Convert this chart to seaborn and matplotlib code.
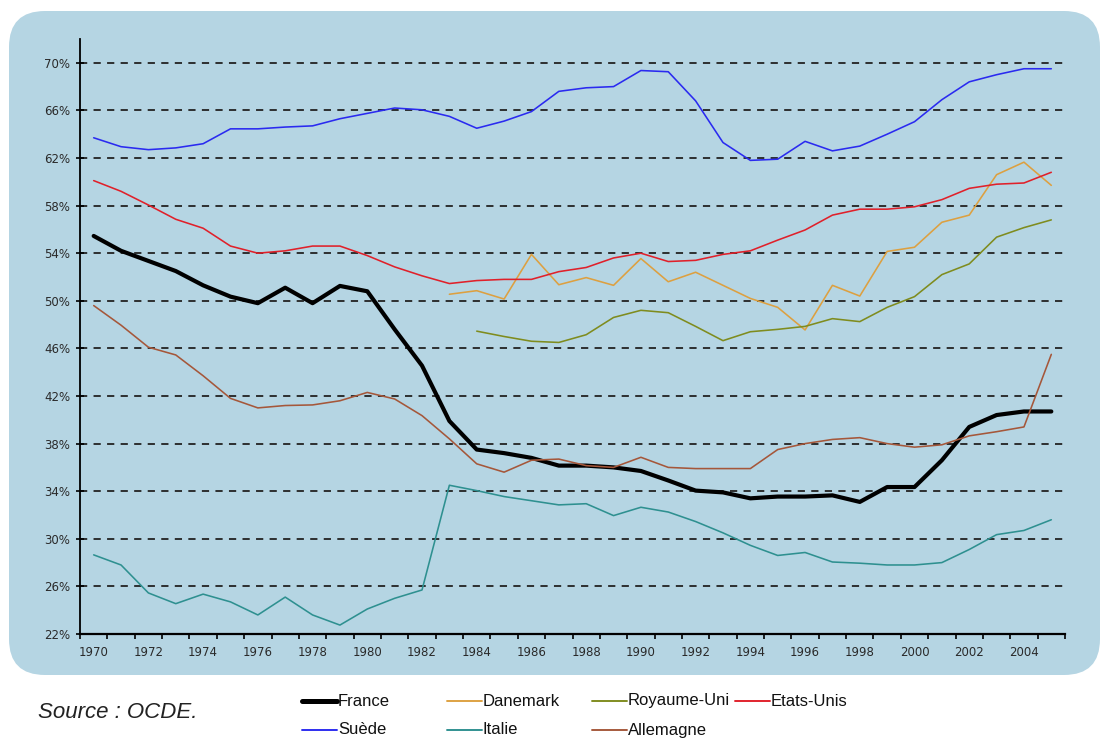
import numpy as np
import pandas as pd
import matplotlib
matplotlib.use("Agg")
import matplotlib.pyplot as plt
from matplotlib.patches import FancyBboxPatch
from matplotlib.lines import Line2D
import seaborn as sns

# Taux d'emploi (en %), 1970-2005
years = list(range(1970, 2006))

france = [55.45, 54.2, 53.35, 52.5, 51.3, 50.35, 49.8, 51.1, 49.8, 51.25, 50.8,
          47.6, 44.55, 39.9, 37.5, 37.2, 36.8, 36.15, 36.15, 36.0, 35.7, 34.9, 34.05, 33.9,
          33.4, 33.55, 33.55, 33.65, 33.1, 34.35, 34.35, 36.6, 39.4, 40.4, 40.7, 40.7]
suede = [63.7, 62.95, 62.7, 62.85, 63.2, 64.45, 64.45, 64.6, 64.7, 65.3, 65.75,
         66.2, 66.05, 65.5, 64.5, 65.1, 65.9, 67.6, 67.9, 68.0, 69.35, 69.25, 66.8, 63.3,
         61.8, 61.9, 63.4, 62.6, 63.0, 64.0, 65.05, 66.9, 68.4, 69.0, 69.5, 69.5]
etats_unis = [60.1, 59.2, 58.05, 56.85, 56.1, 54.6, 54.0, 54.2, 54.6, 54.6, 53.8,
              52.85, 52.1, 51.45, 51.7, 51.8, 51.8, 52.45, 52.8, 53.6, 54.0, 53.3, 53.4, 53.9,
              54.2, 55.1, 55.95, 57.2, 57.7, 57.7, 57.9, 58.5, 59.45, 59.8, 59.9, 60.8]
allemagne = [49.6, 47.95, 46.1, 45.45, 43.7, 41.8, 41.0, 41.2, 41.25, 41.6, 42.3,
             41.75, 40.35, 38.4, 36.3, 35.6, 36.6, 36.7, 36.15, 36.0, 36.85, 36.0, 35.9, 35.9,
             35.9, 37.5, 38.0, 38.35, 38.5, 38.0, 37.7, 37.9, 38.65, 39.0, 39.4, 45.5]
italie = [28.65, 27.8, 25.45, 24.55, 25.35, 24.7, 23.6, 25.1, 23.6, 22.75, 24.1,
          25.0, 25.7, 34.5, 34.05, 33.55, 33.2, 32.85, 32.95, 31.95, 32.65, 32.25, 31.45, 30.5,
          29.45, 28.6, 28.85, 28.05, 27.95, 27.8, 27.8, 28.0, 29.1, 30.35, 30.7, 31.6]
# series that start later
danemark_years = list(range(1983, 2006))
danemark = [50.55, 50.85, 50.15, 53.9, 51.35, 51.95, 51.3, 53.55, 51.6, 52.4, 51.3,
            50.2, 49.45, 47.55, 51.3, 50.4, 54.15, 54.5, 56.6, 57.2, 60.6, 61.65, 59.7]
royaume_uni_years = list(range(1984, 2006))
royaume_uni = [47.45, 47.0, 46.6, 46.5, 47.15, 48.6, 49.2, 49.0, 47.85, 46.65,
               47.4, 47.6, 47.85, 48.5, 48.25, 49.45, 50.35, 52.2, 53.1, 55.35, 56.15, 56.8]

series = {
    "France": (years, france),
    "Danemark": (danemark_years, danemark),
    "Royaume-Uni": (royaume_uni_years, royaume_uni),
    "Etats-Unis": (years, etats_unis),
    "Suède": (years, suede),
    "Italie": (years, italie),
    "Allemagne": (years, allemagne),
}
colors = {
    "France": "#000000",
    "Danemark": "#DDA040",
    "Royaume-Uni": "#7F8C1E",
    "Etats-Unis": "#E0202A",
    "Suède": "#2A2AF0",
    "Italie": "#2E9090",
    "Allemagne": "#A5573A",
}
widths = {k: (3.0 if k == "France" else 1.15) for k in series}

rows = []
for name, (yrs, vals) in series.items():
    for y, v in zip(yrs, vals):
        rows.append({"annee": y, "taux": v, "pays": name})
df = pd.DataFrame(rows)

sns.set_theme(style="white")
plt.rcParams['font.family'] = ['DejaVu Sans']

fig = plt.figure(figsize=(11.03, 7.40), dpi=100)

# rounded light-blue panel behind the chart
panel = FancyBboxPatch((0.09, 0.65), 10.91, 6.64,
                       boxstyle="round,pad=0,rounding_size=0.36",
                       transform=fig.dpi_scale_trans,
                       facecolor="#B5D5E3", edgecolor="none", zorder=-10)
fig.patches.append(panel)

ax = fig.add_axes([80 / 1103, 1 - 634 / 740, (1065 - 80) / 1103, (634 - 39) / 740])
ax.patch.set_alpha(0)

sns.lineplot(data=df, x="annee", y="taux", hue="pays", size="pays",
             palette=colors, sizes=widths, legend=False, ax=ax,
             estimator=None, sort=True)

ax.set_xlim(1969.5, 2005.5)
ax.set_ylim(22, 72)
ax.set_xlabel("")
ax.set_ylabel("")

yt = list(range(22, 71, 4))
ax.set_yticks(yt)
ax.set_yticklabels([f"{v}%" for v in yt])
ax.set_xticks(list(range(1970, 2006, 2)))
ax.set_xticks(np.arange(1969.5, 2006, 1), minor=True)

ax.tick_params(axis="x", which="major", length=0, pad=9, labelsize=8.5, labelcolor="#2a2a2a")
ax.tick_params(axis="x", which="minor", direction="out", length=3.5, width=1.2,
               color="black", bottom=True)
ax.tick_params(axis="y", which="major", direction="inout", length=6, width=1.2,
               color="black", left=True, pad=4, labelsize=8.5, labelcolor="#2a2a2a")

ax.set_axisbelow(True)
ax.yaxis.grid(True, color="#222222", linestyle=(0, (4, 3.5)), linewidth=1.3)
ax.xaxis.grid(False)

for s in ["top", "right"]:
    ax.spines[s].set_visible(False)
ax.spines["left"].set_color("black")
ax.spines["left"].set_linewidth(1.3)
ax.spines["bottom"].set_color("black")
ax.spines["bottom"].set_linewidth(1.6)

# source note
fig.text(38 / 1103, 1 - 713 / 740, "Source : OCDE.", fontsize=16, style="italic",
         family=["Liberation Sans", "DejaVu Sans"], color="#222222", va="center", ha="left")

# hand-placed legend under the panel
legend_pos = {
    "France": (302, 701), "Danemark": (447, 701), "Royaume-Uni": (592, 701),
    "Etats-Unis": (735, 701), "Suède": (302, 730), "Italie": (447, 730),
    "Allemagne": (592, 730),
}
for name, (px, py) in legend_pos.items():
    yf = 1 - py / 740
    fig.add_artist(Line2D([px / 1103, (px + 35) / 1103], [yf, yf],
                          color=colors[name], linewidth=widths[name] * 1.2,
                          transform=fig.transFigure))
    fig.text((px + 36) / 1103, yf, name, fontsize=12,
             family=["Liberation Sans Narrow", "Liberation Sans", "DejaVu Sans"],
             color="#111111", va="center", ha="left")

fig.savefig("out.png", dpi=100)
